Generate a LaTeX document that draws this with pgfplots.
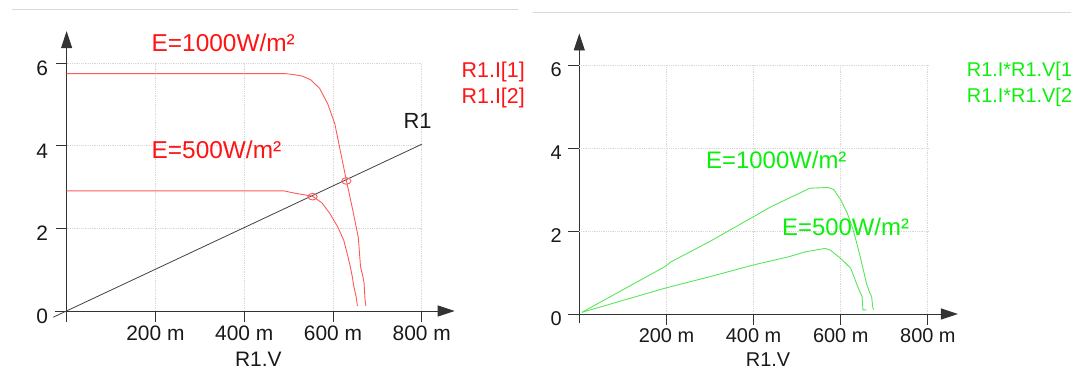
\documentclass[border=0pt]{standalone}
\usepackage{fontspec}
\setmainfont{Liberation Sans}
\usepackage{pgfplots}
\pgfplotsset{compat=1.18}
\usetikzlibrary{arrows.meta}
\definecolor{txtred}{RGB}{255,20,20}
\definecolor{curvered}{RGB}{255,90,90}
\definecolor{txtgreen}{RGB}{10,240,10}
\definecolor{curvegreen}{RGB}{90,230,90}
\definecolor{gridc}{RGB}{215,215,215}
\pgfplotsset{panel/.style={
  axis lines=middle, scale only axis, clip=false, anchor=south west,
  axis line style={black!80, line width=0.9bp, -{Triangle[length=17bp,width=11bp]}},
  every inner x axis line/.append style={-{Triangle[length=17bp,width=11bp]}},
  every inner y axis line/.append style={-{Triangle[length=17bp,width=11bp]}},
  hide obscured x ticks=false, hide obscured y ticks=false,
  tick align=outside, major tick length=11bp,
  tick style={black!80, line width=0.9bp},
  xtick={0.2,0.4,0.6,0.8}, xticklabels={200 m,400 m,600 m,800 m},
  ytick={0,2,4,6},
  /pgf/number format/assume math mode=true,
  tick label style={text=black!90},
  xmin=-0.026,
}}
\begin{document}
\begin{tikzpicture}
\useasboundingbox (0,0) rectangle (1071bp,387bp);
\draw[gray!30, line width=1bp] (12bp,377bp) -- (518bp,377bp);
\draw[gray!30, line width=1bp] (533bp,374.7bp) -- (1071bp,374.7bp);
% ---------------- left panel
\begin{axis}[panel, x=444bp, y=41.28bp, xmax=0.874, ymin=-0.26, ymax=6.78,
  at={(55.06bp,65.27bp)},
  xticklabel style={font=\fontsize{21}{25}\selectfont},
  yticklabel style={font=\fontsize{21}{25}\selectfont, yshift=-5bp, xshift=-4bp}]
\foreach \xv in {0.2,0.4,0.6,0.8}{\edef\tmp{\noexpand\draw[gridc, densely dotted, line width=0.8bp] (axis cs:\xv,0) -- (axis cs:\xv,6);}\tmp}
\foreach \yv in {2,4,6}{\edef\tmp{\noexpand\draw[gridc, densely dotted, line width=0.8bp] (axis cs:0,\yv) -- (axis cs:0.8,\yv);}\tmp}
\addplot[black!75, line width=0.8bp] coordinates {(-0.03,-0.15) (0.80,4.04)};
\addplot[curvered, line width=0.9bp] coordinates {
(0,5.75) (0.492,5.75) (0.51,5.73) (0.531,5.69) (0.55,5.6) (0.570,5.39) (0.588,5.02) (0.604,4.54)
(0.617,3.85) (0.630,3.17) (0.645,2.42) (0.657,1.78) (0.662,1.07) (0.667,0.85) (0.670,0.67) (0.672,0.3) (0.674,0.12)};
\addplot[curvered, line width=0.9bp] coordinates {
(0,2.91) (0.489,2.91) (0.516,2.85) (0.554,2.78) (0.575,2.62) (0.593,2.36) (0.610,2.05) (0.624,1.72)
(0.633,1.35) (0.639,1.07) (0.644,0.8) (0.647,0.59) (0.652,0.35) (0.655,0.12)};
\addplot[only marks, mark=o, mark size=3.3bp, curvered, mark options={xscale=1.4, line width=0.9bp}] coordinates {(0.630,3.15) (0.554,2.77)};
\end{axis}
\node[anchor=base west, inner sep=0, text=txtred, font=\fontsize{24.5}{29}\selectfont] at (151.5bp,335.3bp) {E=1000W/m²};
\node[anchor=base west, inner sep=0, text=txtred, font=\fontsize{24.5}{29}\selectfont] at (151.5bp,228.7bp) {E=500W/m²};
\node[anchor=base west, inner sep=0, text=black!90, font=\fontsize{22}{26}\selectfont] at (403.3bp,258bp) {R1};
\node[anchor=base west, inner sep=0, text=txtred, font=\fontsize{21.5}{25}\selectfont] at (461.5bp,309.7bp) {R1.I[1]};
\node[anchor=base west, inner sep=0, text=txtred, font=\fontsize{21.5}{25}\selectfont] at (461.5bp,283bp) {R1.I[2]};
\node[anchor=base, inner sep=0, text=black!90, font=\fontsize{21}{25}\selectfont] at (258.3bp,20.3bp) {R1.V};
% ---------------- right panel
\begin{axis}[panel, x=435.7bp, y=41.5bp, xmax=0.869, ymin=-0.22, ymax=6.76,
  at={(567.97bp,63.87bp)},
  xticklabel style={font=\fontsize{20}{24}\selectfont},
  yticklabel style={font=\fontsize{20}{24}\selectfont, yshift=-5bp, xshift=-3bp}]
\foreach \xv in {0.2,0.4,0.6,0.8}{\edef\tmp{\noexpand\draw[gridc, densely dotted, line width=0.8bp] (axis cs:\xv,0) -- (axis cs:\xv,6);}\tmp}
\foreach \yv in {2,4,6}{\edef\tmp{\noexpand\draw[gridc, densely dotted, line width=0.8bp] (axis cs:0,\yv) -- (axis cs:0.8,\yv);}\tmp}
\addplot[curvegreen, line width=0.9bp] coordinates {
(0.006,0.04) (0.196,1.14) (0.211,1.26) (0.30,1.75) (0.394,2.31) (0.441,2.59) (0.489,2.83) (0.529,3.03)
(0.571,3.05) (0.584,3.0) (0.600,2.75) (0.615,2.43) (0.628,2.05) (0.639,1.62) (0.650,1.15) (0.659,0.74) (0.667,0.50) (0.671,0.42) (0.673,0.2) (0.675,0.10)};
\addplot[curvegreen, line width=0.9bp] coordinates {
(0.006,0.04) (0.196,0.62) (0.30,0.90) (0.399,1.18) (0.481,1.38) (0.520,1.50) (0.564,1.58)
(0.576,1.54) (0.600,1.34) (0.623,1.10) (0.639,0.66) (0.649,0.42) (0.651,0.10) (0.659,0.10)};
\end{axis}
\node[anchor=base west, inner sep=0, text=txtgreen, font=\fontsize{24}{29}\selectfont] at (706bp,218.7bp) {E=1000W/m²};
\node[anchor=base west, inner sep=0, text=txtgreen, font=\fontsize{24}{29}\selectfont] at (781.9bp,151bp) {E=500W/m²};
\node[anchor=base west, inner sep=0, text=txtgreen, font=\fontsize{20}{24}\selectfont] at (966.7bp,310.3bp) {R1.I*R1.V[1};
\node[anchor=base west, inner sep=0, text=txtgreen, font=\fontsize{20}{24}\selectfont] at (966.7bp,284.5bp) {R1.I*R1.V[2};
\node[anchor=base, inner sep=0, text=black!90, font=\fontsize{20}{24}\selectfont] at (768.1bp,20.3bp) {R1.V};
\end{tikzpicture}
\end{document}
